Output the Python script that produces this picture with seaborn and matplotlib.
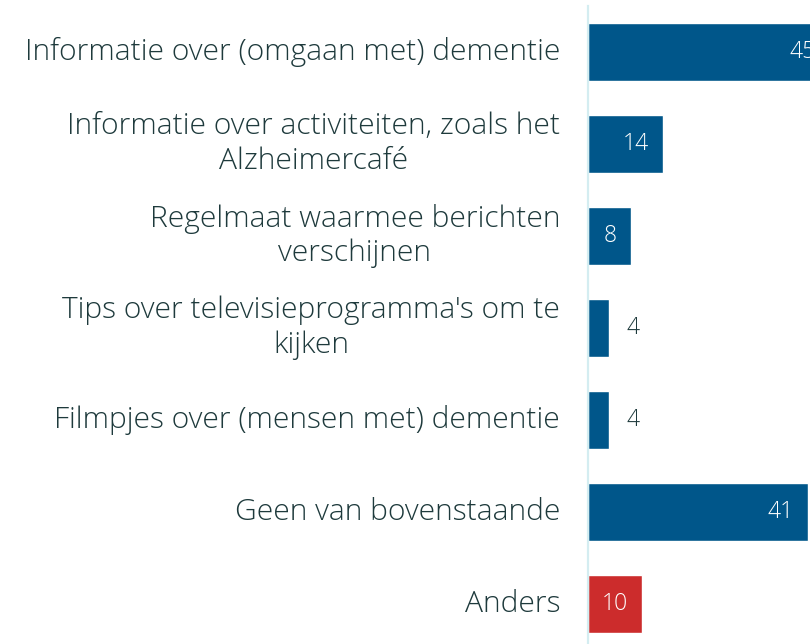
import matplotlib
matplotlib.use("Agg")
import matplotlib.pyplot as plt
import seaborn as sns

# data
categories = [
    "Informatie over (omgaan met) dementie",
    "Informatie over activiteiten, zoals het\nAlzheimercafé",
    "Regelmaat waarmee berichten\nverschijnen",
    "Tips over televisieprogramma's om te\nkijken",
    "Filmpjes over (mensen met) dementie",
    "Geen van bovenstaande",
    "Anders",
]
values = [45, 14, 8, 4, 4, 41, 10]
bar_colors = ["#00568a", "#00568a", "#00568a", "#00568a", "#00568a", "#00568a", "#cc2c2c"]

sns.set_theme(style="white")
plt.rcParams["font.family"] = ["Open Sans", "DejaVu Sans"]

text_color = "#1e3a3c"

fig = plt.figure(figsize=(8.10, 6.44), dpi=100)
ax = fig.add_axes([588 / 810, -6 / 644, 222 / 810, 644 / 644])

sns.barplot(x=values, y=categories, hue=categories, palette=bar_colors,
            legend=False, width=0.63, orient="h", saturation=1, ax=ax)

ax.set_xlim(0, 41.37)
ax.set_ylim(6.5, -0.5)
ax.set_xlabel("")
ax.set_ylabel("")
ax.set_xticks([])
ax.set_yticks(range(len(categories)))
ax.set_yticklabels([])
ax.tick_params(axis="y", length=0)

for s in ["top", "right", "bottom"]:
    ax.spines[s].set_visible(False)
ax.spines["left"].set_color("#d4edf1")
ax.spines["left"].set_linewidth(1.6)

# category labels, right-aligned left of the axis, centred lines
for i, c in enumerate(categories):
    ax.annotate(c, xy=(0, i), xytext=(-20, 0), textcoords="offset points",
                ha="right", va="center", multialignment="center",
                fontsize=21.6, fontweight="light", color=text_color,
                linespacing=1.23, annotation_clip=False)

# value labels: inside the bar when it is wide enough, else just outside
for i, v in enumerate(values):
    if v >= 8:
        ax.annotate(str(v), xy=(v, i), xytext=(-10, 0), textcoords="offset points",
                    ha="right", va="center", color="white", fontsize=16.5,
                    fontweight="light", annotation_clip=False)
    else:
        ax.annotate(str(v), xy=(v, i), xytext=(12, 0), textcoords="offset points",
                    ha="left", va="center", color=text_color, fontsize=16.5,
                    fontweight="light")

fig.savefig("out.png", dpi=100)
